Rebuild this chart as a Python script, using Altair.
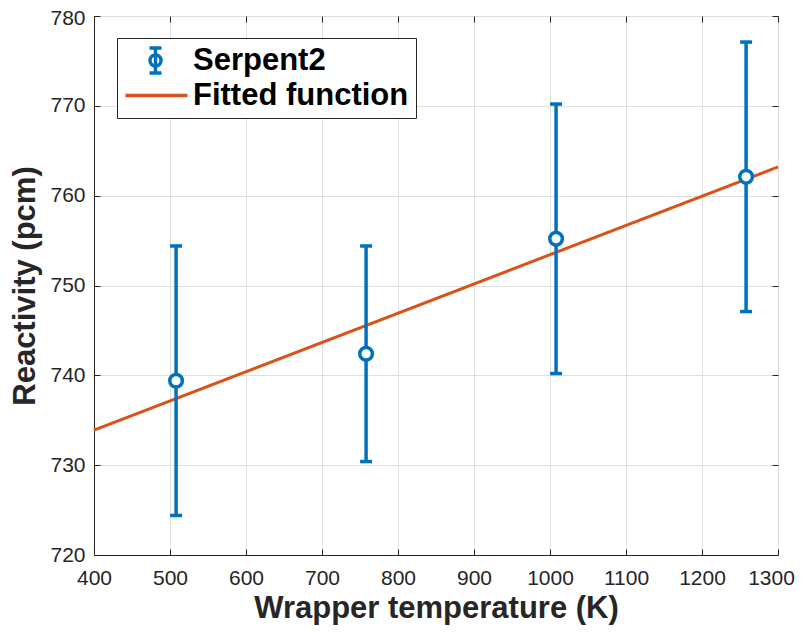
import altair as alt
import pandas as pd

# ---- data ----
temperature = [508, 758, 1008, 1258]
reactivity = [739.4, 742.4, 755.2, 762.1]
uncertainty = [15.0, 12.0, 15.0, 15.0]

fit_x = [400, 1300]
fit_y = [733.9, 763.2]

x_ticks = [400, 500, 600, 700, 800, 900, 1000, 1100, 1200, 1300]
x_ticks_inner = x_ticks[:-1]
x_ticks_last = x_ticks[-1:]
y_ticks = [720, 730, 740, 750, 760, 770, 780]
y_ticks_inner = y_ticks[:-1]
y_ticks_last = y_ticks[-1:]

series_names = ["Serpent2", "Fitted function"]

BLUE = "#0072BD"
ORANGE = "#D95319"
DARK = "#262626"
GRID = "#dfdfdf"
FONT = "Liberation Sans"

pts = pd.DataFrame({
    "T": temperature,
    "R": reactivity,
    "lo": [r - u for r, u in zip(reactivity, uncertainty)],
    "hi": [r + u for r, u in zip(reactivity, uncertainty)],
})
fit = pd.DataFrame({"T": fit_x, "R": fit_y})
leg = pd.DataFrame({"series": series_names})

xs = alt.Scale(domain=[400, 1300], nice=False, zero=False)
ys = alt.Scale(domain=[720, 780], nice=False, zero=False)

# main axes (labels, grid, titles)
x_main = alt.Axis(values=x_ticks_inner, orient="bottom", grid=True, gridColor=GRID, gridWidth=1,
                  tickSize=0, domainColor=DARK, domainWidth=1, labelFontSize=21,
                  labelColor=DARK, labelPadding=12, labelFlush=False, labelFont=FONT,
                  format="d",
                  title="Wrapper temperature (K)", titleFontSize=31, titleFont=FONT,
                  titleFontWeight="bold", titleColor=DARK, titlePadding=5)
y_main = alt.Axis(values=y_ticks_inner, orient="left", grid=True, gridColor=GRID, gridWidth=1,
                  tickSize=0, domainColor=DARK, domainWidth=1, labelFontSize=21,
                  labelColor=DARK, labelPadding=9, labelFlush=False, labelFont=FONT,
                  format="d",
                  title="Reactivity (pcm)", titleFontSize=31, titleFont=FONT,
                  titleFontWeight="bold", titleColor=DARK, titlePadding=8)
# end labels on their own axes, nudged so that they stay on the page
x_last = alt.Axis(values=x_ticks_last, orient="bottom", grid=False, tickSize=0, domain=False,
                  labelFontSize=21, labelColor=DARK, labelPadding=12, labelFlush=False,
                  labelFont=FONT, labelOffset=-7, format="d", title="")
y_last = alt.Axis(values=y_ticks_last, orient="left", grid=False, tickSize=0, domain=False,
                  labelFontSize=21, labelColor=DARK, labelPadding=9, labelFlush=False,
                  labelFont=FONT, labelOffset=2, format="d", title="")


def tick_axis(values, orient):
    return alt.Axis(values=values, orient=orient, offset=-6, tickSize=6, tickColor=DARK,
                    tickWidth=1, labels=False, domain=False, grid=False, title="")


fit_line = alt.Chart(fit).mark_line(color=ORANGE, strokeWidth=3).encode(
    x=alt.X("T:Q", scale=xs, axis=x_main),
    y=alt.Y("R:Q", scale=ys, axis=y_main),
)

end_labels = alt.Chart(fit).mark_line(opacity=0).encode(
    x=alt.X("T:Q", scale=xs, axis=x_last),
    y=alt.Y("R:Q", scale=ys, axis=y_last),
)

ticks_bl = alt.Chart(fit).mark_line(opacity=0).encode(
    x=alt.X("T:Q", scale=xs, axis=tick_axis(x_ticks, "bottom")),
    y=alt.Y("R:Q", scale=ys, axis=tick_axis(y_ticks, "left")),
)
ticks_tr = alt.Chart(fit).mark_line(opacity=0).encode(
    x=alt.X("T:Q", scale=xs, axis=tick_axis(x_ticks, "top")),
    y=alt.Y("R:Q", scale=ys, axis=tick_axis(y_ticks, "right")),
)

bars = alt.Chart(pts).mark_rule(color=BLUE, strokeWidth=3.5).encode(
    x=alt.X("T:Q", scale=xs, axis=None),
    y=alt.Y("lo:Q", scale=ys, axis=None),
    y2="hi:Q",
)
cap_lo = alt.Chart(pts).mark_tick(color=BLUE, orient="horizontal", size=12, thickness=3.5, opacity=1).encode(
    x=alt.X("T:Q", scale=xs, axis=None),
    y=alt.Y("lo:Q", scale=ys, axis=None),
)
cap_hi = alt.Chart(pts).mark_tick(color=BLUE, orient="horizontal", size=12, thickness=3.5, opacity=1).encode(
    x=alt.X("T:Q", scale=xs, axis=None),
    y=alt.Y("hi:Q", scale=ys, axis=None),
)
markers = alt.Chart(pts).mark_point(shape="circle", filled=True, fill="white", stroke=BLUE,
                                    strokeWidth=3.5, size=160, opacity=1).encode(
    x=alt.X("T:Q", scale=xs, axis=None),
    y=alt.Y("R:Q", scale=ys, axis=None),
)

ERR_PATH = ("M1.6,-1.25L1.6,1.25M1.0,-1.25L2.2,-1.25M1.0,1.25L2.2,1.25"
            "M2.15,0A0.55,0.55 0 1,1 1.05,0A0.55,0.55 0 1,1 2.15,0Z")
LINE_PATH = "M-1.4,0L4.8,0"

legend_cfg = alt.Legend(orient="none", legendX=23, legendY=22, title=None,
                        direction="vertical", fillColor="white", strokeColor=DARK,
                        padding=7,
                        symbolSize=400, symbolStrokeWidth=3.5, symbolOpacity=1,
                        symbolFillColor="transparent",
                        labelFont=FONT, labelFontSize=31, labelFontWeight="bold",
                        labelColor="black", labelOffset=38, labelLimit=500, rowPadding=-6)

legend_layer = alt.Chart(leg).mark_point(opacity=0).encode(
    color=alt.Color("series:N", scale=alt.Scale(domain=series_names, range=[BLUE, ORANGE]),
                    legend=legend_cfg, sort=series_names),
    shape=alt.Shape("series:N", scale=alt.Scale(domain=series_names, range=[ERR_PATH, LINE_PATH]),
                    legend=legend_cfg, sort=series_names),
)

chart = alt.layer(
    fit_line, end_labels, ticks_bl, ticks_tr, bars, cap_lo, cap_hi, markers, legend_layer
).resolve_axis(x="independent", y="independent").properties(
    width=684, height=539,
    autosize=alt.AutoSizeParams(type="none"),
    padding={"left": 86, "top": 8, "right": 17, "bottom": 70},
    background="white",
).configure_view(stroke=DARK, strokeWidth=1).configure(font=FONT)

chart.save("out.html", embed_options={"renderer": "svg", "actions": False})
